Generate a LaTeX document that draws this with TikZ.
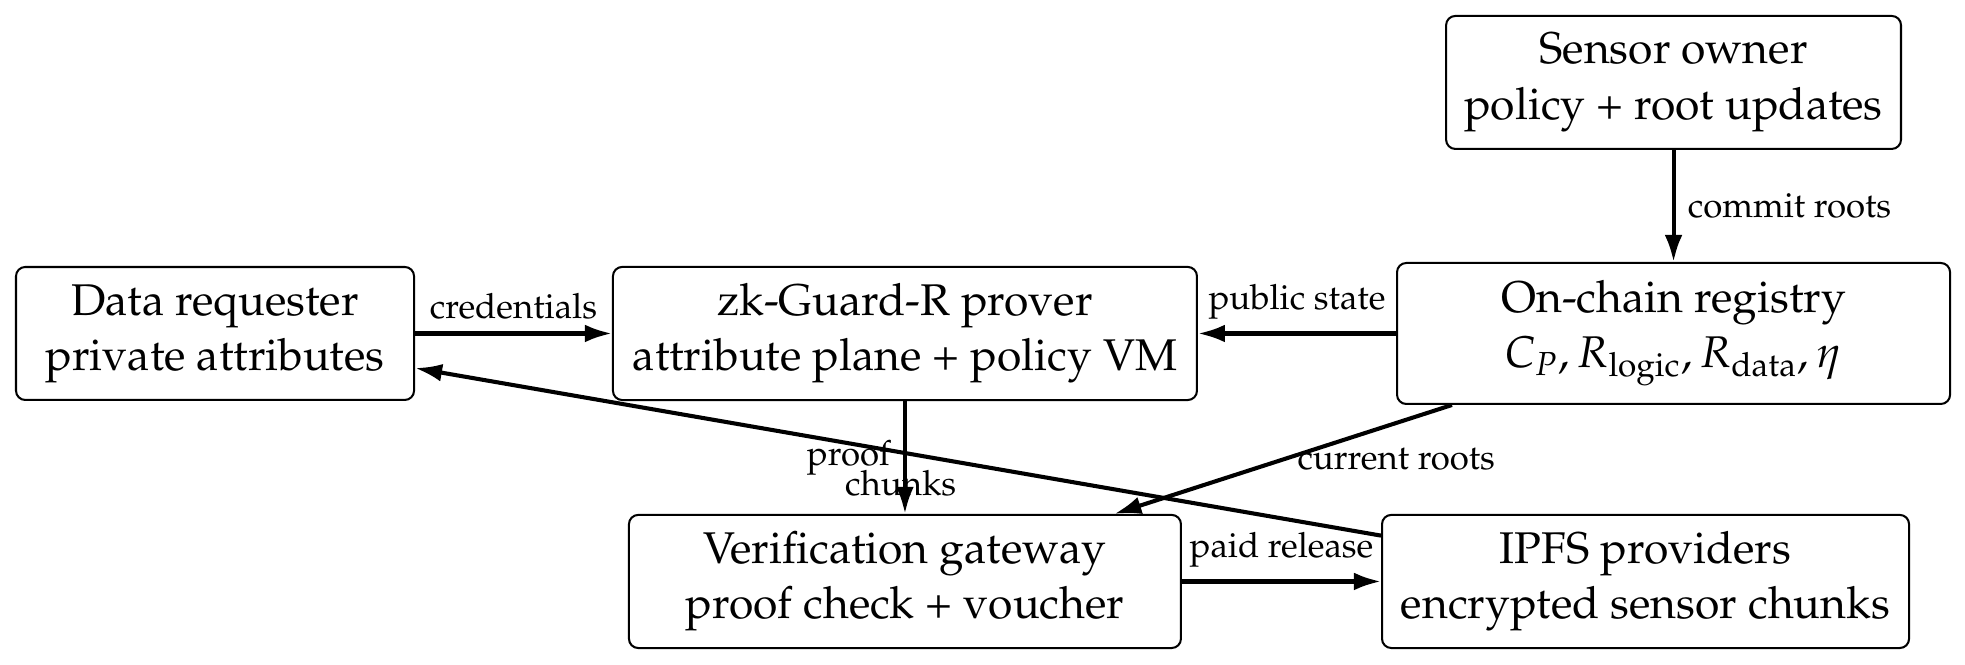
\documentclass[tikz,border=0pt]{standalone}
\usepackage[T1]{fontenc}
\usepackage{mathpazo}
\usetikzlibrary{arrows.meta}
\tikzset{
  block/.style={draw, rounded corners=2.5pt, line width=0.55pt, align=center,
    inner xsep=4pt, inner ysep=4.5pt, minimum height=1.263cm,
    font=\fontsize{12}{14.9}\selectfont},
  flow/.style={-{Latex[length=7.3pt,width=4.8pt]}, line width=1.1pt},
  tag/.style={font=\fontsize{9.4}{11.3}\selectfont}
}

\begin{document}
\begin{tikzpicture}
  \useasboundingbox (0,0) rectangle (18.661,-6.306);
  % top row
  \node[block, minimum width=4.32cm] (owner) at (15.893,-0.783)
    {Sensor owner\\policy + root updates};
  % middle row
  \def\ym{-3.167}
  \node[block, minimum width=3.78cm] (req) at (2.042,\ym)
    {Data requester\\private attributes};
  \node[block, minimum width=5.546cm] (prover) at (8.594,\ym)
    {zk-Guard-R prover\\attribute plane + policy VM};
  \node[block, minimum width=5.252cm, minimum height=1.339cm] (registry) at (15.893,\ym)
    {On-chain registry\\$C_P, R_{\mathrm{logic}}, R_{\mathrm{data}}, \eta$};
  % bottom row
  \def\yb{-5.522}
  \node[block, minimum width=5.242cm] (gateway) at (8.594,\yb)
    {Verification gateway\\proof check + voucher};
  \node[block, minimum width=5.005cm] (ipfs) at (15.627,\yb)
    {IPFS providers\\encrypted sensor chunks};
  % connectors
  \draw[flow] (owner) -- node[right,tag]{commit roots} (registry);
  \draw[flow] (req) -- node[above,tag]{credentials} (prover);
  \draw[flow] (registry) -- node[above,tag]{public state} (prover);
  \draw[flow] (prover) -- node[tag, midway, anchor=west, inner sep=0, align=left,
      xshift=-0.95cm, yshift=-0.1cm]{proof\\[-3.2pt]\hspace*{10.3pt}chunks} (gateway);
  \draw[flow] (registry) -- node[right,tag]{current roots} (gateway);
  \draw[flow] (gateway) -- node[above,tag]{paid release} (ipfs);
  \draw[flow] (ipfs) -- (req);
\end{tikzpicture}
\end{document}
